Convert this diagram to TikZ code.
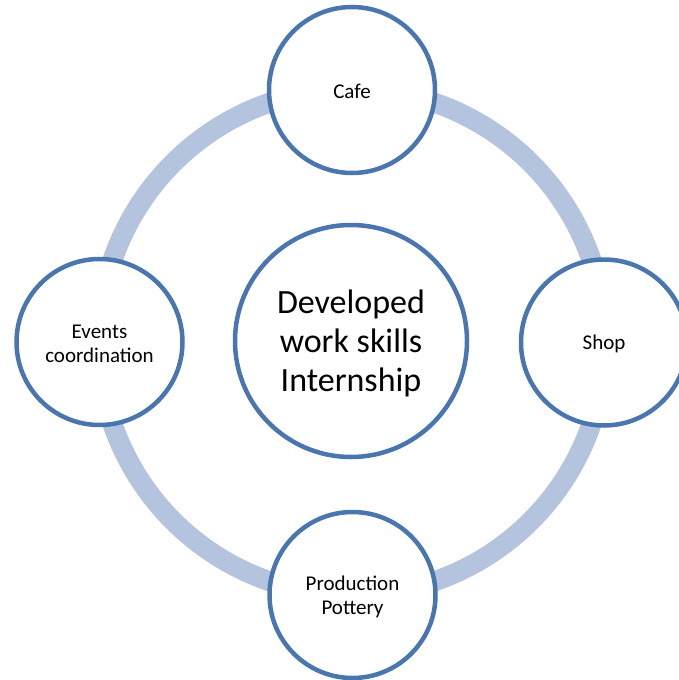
\documentclass[tikz,border=0pt]{standalone}
\usepackage{fontspec}
\setmainfont{Carlito}
\definecolor{ringblue}{RGB}{180,195,222}
\definecolor{edgeblue}{RGB}{74,118,175}
\begin{document}
\begin{tikzpicture}[x=1pt,y=-1pt,
  sat/.style={circle,draw=edgeblue,line width=4.5pt,fill=white,minimum size=166pt,inner sep=0pt,align=center,font=\fontsize{21}{23.5}\selectfont},
  hub/.style={circle,draw=edgeblue,line width=4.5pt,fill=white,minimum size=232pt,inner sep=0pt,align=center,font=\fontsize{34}{39}\selectfont}]
\useasboundingbox (0,0) rectangle (678,680);
\coordinate (c) at (352,342);
\draw[ringblue,line width=20pt] (c) circle[radius=253];
\node[hub,label={[align=center,font=\fontsize{34}{39}\selectfont,yshift=-2.5pt]center:{Developed\\work skills\\Internship}}] (core) at (351,341) {};
\node[sat,label={[font=\fontsize{21}{23.5}\selectfont,yshift=-1.5pt]center:Cafe}] (cafe) at (352,90) {};
\node[sat,label={[font=\fontsize{21}{23.5}\selectfont,yshift=-1.5pt]center:Shop}] (shop) at (604,342.5) {};
\node[sat,label={[align=center,font=\fontsize{21}{23.5}\selectfont,yshift=-2pt]center:{Events\\coordination}}] (events) at (99.5,342) {};
\node[sat,label={[align=center,font=\fontsize{21}{23.5}\selectfont,yshift=-2pt]center:{Production\\Pottery}}] (prod) at (352.5,595) {};
\end{tikzpicture}
\end{document}
